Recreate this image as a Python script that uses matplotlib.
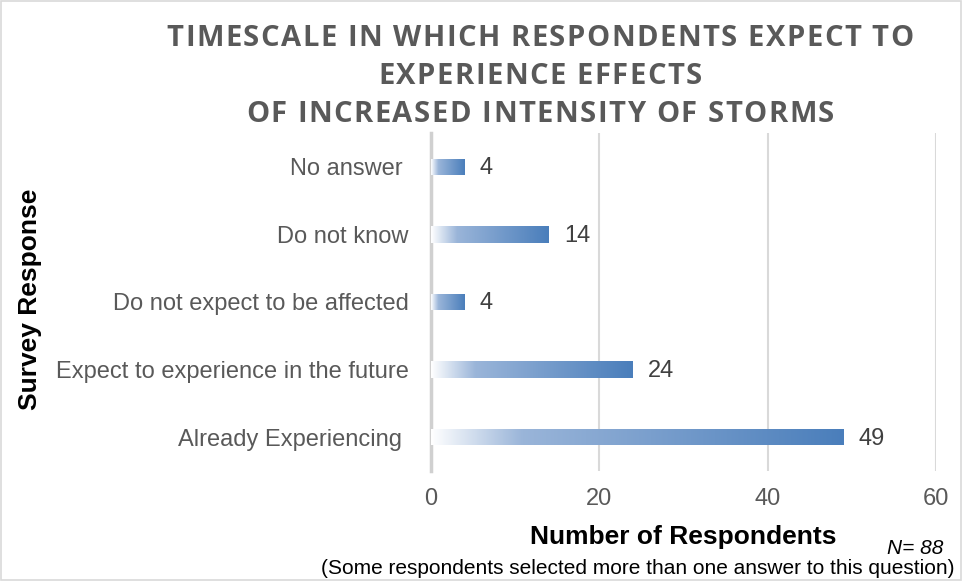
import matplotlib.pyplot as plt
import numpy as np
from matplotlib.colors import LinearSegmentedColormap
from matplotlib.patches import Rectangle
from matplotlib.font_manager import FontProperties


# Data (top to bottom as shown)
categories = ['No answer ', 'Do not know', 'Do not expect to be affected',
              'Expect to experience in the future', 'Already Experiencing ']
counts = [4, 14, 4, 24, 49]
xticks = [0, 20, 40, 60]

TITLE_LINES = ['TIMESCALE IN WHICH RESPONDENTS EXPECT TO',
               'EXPERIENCE EFFECTS',
               'OF INCREASED INTENSITY OF STORMS']
TEXT = '#404040'
GREY = '#595959'

cmap = LinearSegmentedColormap.from_list(
    'bargrad', [(0, '#ffffff'), (0.22, '#9ab5d9'), (1, '#4a7ebb')])

fig = plt.figure(figsize=(9.63, 5.82), dpi=100)
ax = fig.add_axes([0.4476, 0.1907, 0.5244, 0.5808])

ypos = np.arange(len(categories))
bars = ax.barh(ypos, counts, height=0.24, color='none', zorder=3)

grad = np.linspace(0, 1, 256).reshape(1, -1)
for b in bars:
    x0, y0 = b.get_x(), b.get_y()
    w, h = b.get_width(), b.get_height()
    im = ax.imshow(grad, cmap=cmap, aspect='auto', zorder=3,
                   extent=[x0, x0 + w, y0, y0 + h], interpolation='bicubic')
    im.set_clip_path(b)

for y, v in zip(ypos, counts):
    ax.annotate(str(v), (v, y), xytext=(11, -1), textcoords='offset points',
                va='center', ha='left', fontsize=17, color=TEXT,
                family='Liberation Sans')

ax.set_xlim(0, 60)
ax.set_ylim(len(categories) - 0.5, -0.5)
ax.set_xticks(xticks)
ax.set_yticks(ypos)
ax.set_yticklabels(categories)
ax.xaxis.grid(True, color='#d9d9d9', lw=1.5, zorder=0)
ax.set_axisbelow(True)
for s in ['top', 'right', 'bottom']:
    ax.spines[s].set_visible(False)
ax.spines['left'].set_color('#d0d0d0')
ax.spines['left'].set_linewidth(2.5)
ax.tick_params(axis='both', length=0, labelsize=17, labelcolor=GREY)
ax.tick_params(axis='y', pad=16)
ax.tick_params(axis='x', pad=12)
for lbl in ax.get_xticklabels() + ax.get_yticklabels():
    lbl.set_family('Liberation Sans')

# title with a little letter spacing
fp = FontProperties(family='Open Sans', weight='bold', size=21)
renderer = fig.canvas.get_renderer()
W, H = fig.bbox.width, fig.bbox.height
spacing = 1.5
line_y = [38, 77, 115]
cx = 540
for line, yc in zip(TITLE_LINES, line_y):
    widths = [renderer.get_text_width_height_descent(ch, fp, ismath=False)[0]
              for ch in line]
    total = sum(widths) + spacing * (len(line) - 1)
    x = cx - total / 2
    for ch, w in zip(line, widths):
        fig.text(x / W, 1 - yc / H, ch, ha='left', va='center',
                 fontproperties=fp, color=GREY)
        x += w + spacing

fig.text(0.031, 0.485, 'Survey Response', rotation=90, ha='center',
         va='center', fontsize=19, fontweight='bold', color='black',
         family='Liberation Sans')
fig.text(0.709, 0.077, 'Number of Respondents', ha='center', va='center',
         fontsize=19, fontweight='bold', color='black',
         family='Liberation Sans')
fig.text(0.950, 0.058, 'N= 88', ha='center', va='center', fontsize=15,
         style='italic', color='black', family='Liberation Sans')
fig.text(0.333, 0.024, '(Some respondents selected more than one answer to this question)',
         ha='left', va='center', fontsize=15, color='black',
         family='Liberation Sans')

fig.patches.append(Rectangle((0.001, 0.004), 0.997, 0.994, transform=fig.transFigure,
                             fill=False, edgecolor='#d9d9d9', lw=1.2))

fig.savefig('out.png', dpi=100)
